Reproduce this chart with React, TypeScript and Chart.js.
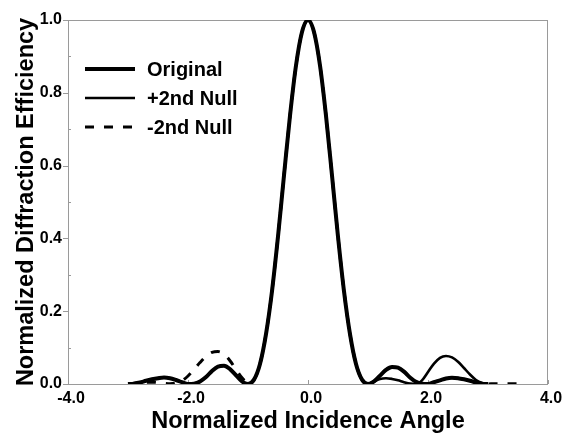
import React, { useEffect, useRef } from 'react';
import { Chart, registerables } from 'chart.js';

Chart.register(...registerables);

// ---------- data ----------
const xValues = [
  -3.0, -2.9, -2.8, -2.7, -2.6, -2.5, -2.4, -2.3, -2.2, -2.1,
  -2.0, -1.9, -1.8, -1.7, -1.6, -1.5, -1.4, -1.3, -1.2, -1.1,
  -1.0, -0.9, -0.8, -0.7, -0.6, -0.5, -0.4, -0.3, -0.2, -0.1,
  0.0,
  0.1, 0.2, 0.3, 0.4, 0.5, 0.6, 0.7, 0.8, 0.9, 1.0,
  1.1, 1.2, 1.3, 1.4, 1.5, 1.6, 1.7, 1.8, 1.9, 2.0,
  2.1, 2.2, 2.3, 2.4, 2.5, 2.6, 2.7, 2.8, 2.9, 3.0,
];

const originalValues = [
  0.000, 0.001, 0.004, 0.009, 0.013, 0.016, 0.018, 0.016, 0.011, 0.005,
  0.000, 0.001, 0.007, 0.019, 0.036, 0.048, 0.050, 0.041, 0.024, 0.007,
  0.000, 0.012, 0.055, 0.137, 0.255, 0.405, 0.573, 0.737, 0.875, 0.967,
  1.000,
  0.967, 0.875, 0.737, 0.573, 0.405, 0.255, 0.137, 0.055, 0.012, 0.000,
  0.007, 0.023, 0.039, 0.047, 0.045, 0.034, 0.018, 0.006, 0.001, 0.000,
  0.005, 0.010, 0.015, 0.017, 0.016, 0.013, 0.009, 0.004, 0.001, 0.000,
];

const plus2ndNullValues = [
  0.000, 0.001, 0.004, 0.009, 0.013, 0.016, 0.018, 0.016, 0.011, 0.005,
  0.000, 0.001, 0.007, 0.019, 0.036, 0.048, 0.050, 0.041, 0.024, 0.007,
  0.000, 0.012, 0.055, 0.137, 0.255, 0.405, 0.573, 0.737, 0.875, 0.967,
  1.000,
  0.967, 0.875, 0.737, 0.573, 0.405, 0.255, 0.137, 0.055, 0.012, 0.000,
  0.007, 0.014, 0.016, 0.014, 0.010, 0.005, 0.001, 0.000, 0.010, 0.033,
  0.056, 0.072, 0.077, 0.073, 0.061, 0.044, 0.026, 0.011, 0.003, 0.000,
];

const minus2ndNullValues = [
  0.000, 0.002, 0.004, 0.005, 0.005, 0.004, 0.002, 0.001, 0.003, 0.009,
  0.022, 0.040, 0.059, 0.076, 0.087, 0.089, 0.082, 0.064, 0.040, 0.017,
  0.003, 0.012, 0.055, 0.137, 0.255, 0.405, 0.573, 0.737, 0.875, 0.967,
  1.000,
  0.967, 0.875, 0.737, 0.573, 0.405, 0.255, 0.137, 0.055, 0.012, 0.000,
  0.007, 0.023, 0.039, 0.047, 0.045, 0.034, 0.018, 0.006, 0.001, 0.000,
  0.005, 0.010, 0.015, 0.017, 0.016, 0.013, 0.009, 0.004, 0.001, 0.000,
];

const minus2ndNullTailX = [3.1, 3.2, 3.3, 3.4, 3.5, 3.6];
const minus2ndNullTailValues = [0.001, 0.001, 0.001, 0.001, 0.001, 0.001];

const seriesLabels = ['Original', '+2nd Null', '-2nd Null'];
const xTickValues = [-4, -2, 0, 2, 4];
const yTickValues = [0, 0.2, 0.4, 0.6, 0.8, 1.0];
const yMinorTickValues = [0.1, 0.3, 0.5, 0.7, 0.9];
const xAxisTitle = 'Normalized Incidence Angle';
const yAxisTitle = 'Normalized Diffraction Efficiency';

// ---------- chart ----------
const FONT = '"Liberation Sans", Arial, Helvetica, sans-serif';
const FRAME_COLOR = '#9a9a9a';

const frameLegendPlugin = {
  id: 'frameLegend',
  beforeDatasetsDraw(chart: any) {
    const { ctx, chartArea: a, scales } = chart;
    const xs = scales.x;
    const ys = scales.y;
    ctx.save();
    ctx.strokeStyle = FRAME_COLOR;
    ctx.lineWidth = 1;
    ctx.strokeRect(a.left + 0.5, a.top + 0.5, a.right - a.left - 1, a.bottom - a.top);
    ctx.beginPath();
    for (const v of yTickValues) {
      const y = Math.round(ys.getPixelForValue(v)) + 0.5;
      ctx.moveTo(a.left - 5, y);
      ctx.lineTo(a.left + 1, y);
    }
    for (const v of yMinorTickValues) {
      const y = Math.round(ys.getPixelForValue(v)) + 0.5;
      ctx.moveTo(a.left, y);
      ctx.lineTo(a.left + 3, y);
    }
    for (const v of xTickValues) {
      const x = Math.round(xs.getPixelForValue(v)) + 0.5;
      ctx.moveTo(x, a.bottom);
      ctx.lineTo(x, a.bottom - 4);
    }
    ctx.stroke();
    ctx.restore();
  },
  afterDraw(chart: any) {
    const { ctx } = chart;
    const rows = [69, 98, 127];
    ctx.save();
    chart.data.datasets.forEach((ds: any, i: number) => {
      const y = rows[i];
      ctx.beginPath();
      ctx.strokeStyle = ds.borderColor;
      ctx.lineWidth = ds.borderWidth;
      ctx.setLineDash(ds.borderDash || []);
      ctx.moveTo(85, y);
      ctx.lineTo(135, y);
      ctx.stroke();
      ctx.setLineDash([]);
      ctx.fillStyle = '#000';
      ctx.font = `bold 20px ${FONT}`;
      ctx.textBaseline = 'middle';
      ctx.textAlign = 'left';
      ctx.fillText(ds.label, 147, y + 1);
    });
    ctx.restore();
  },
};

export default function App() {
  const canvasRef = useRef<HTMLCanvasElement | null>(null);

  useEffect(() => {
    document.body.style.margin = '0';
    const canvas = canvasRef.current;
    if (!canvas) return;

    const toPoints = (xs: number[], ys: number[]) => xs.map((x, i) => ({ x, y: ys[i] }));

    const chart = new Chart(canvas, {
      type: 'line',
      data: {
        datasets: [
          {
            label: seriesLabels[0],
            data: toPoints(xValues, originalValues),
            borderColor: '#000',
            borderWidth: 4,
            pointRadius: 0,
            cubicInterpolationMode: 'monotone',
            fill: false,
          },
          {
            label: seriesLabels[1],
            data: toPoints(xValues, plus2ndNullValues),
            borderColor: '#000',
            borderWidth: 2.6,
            pointRadius: 0,
            cubicInterpolationMode: 'monotone',
            fill: false,
          },
          {
            label: seriesLabels[2],
            data: toPoints(xValues, minus2ndNullValues).concat(
              toPoints(minus2ndNullTailX, minus2ndNullTailValues)
            ),
            borderColor: '#000',
            borderWidth: 3,
            borderDash: [9, 10],
            pointRadius: 0,
            cubicInterpolationMode: 'monotone',
            fill: false,
          },
        ],
      },
      options: {
        responsive: false,
        animation: false,
        devicePixelRatio: 1,
        layout: { padding: { left: 0, top: 20, right: 19, bottom: 0 } },
        plugins: {
          legend: { display: false },
          tooltip: { enabled: false },
        },
        scales: {
          x: {
            type: 'linear',
            min: -4,
            max: 4,
            afterBuildTicks: (scale: any) => {
              scale.ticks = xTickValues.map((v) => ({ value: v }));
            },
            afterFit: (scale: any) => {
              scale.height = 54;
            },
            grid: { display: false, drawTicks: false },
            border: { display: false },
            ticks: {
              color: '#000',
              font: { family: FONT, size: 16, weight: 'bold' },
              padding: 5,
              labelOffset: 3,
              maxRotation: 0,
              autoSkip: false,
              callback: (v: any) => Number(v).toFixed(1),
            },
            title: {
              display: true,
              text: xAxisTitle,
              color: '#000',
              font: { family: FONT, size: 23.5, weight: 'bold', lineHeight: 1.2 },
              padding: { top: 0, bottom: 2 },
            },
          },
          y: {
            type: 'linear',
            min: 0,
            max: 1,
            afterBuildTicks: (scale: any) => {
              scale.ticks = yTickValues.map((v) => ({ value: v }));
            },
            afterFit: (scale: any) => {
              scale.width = 68;
            },
            grid: { display: false, drawTicks: false },
            border: { display: false },
            ticks: {
              color: '#000',
              font: { family: FONT, size: 16, weight: 'bold' },
              padding: 6,
              autoSkip: false,
              callback: (v: any) => Number(v).toFixed(1),
            },
            title: {
              display: true,
              text: yAxisTitle,
              color: '#000',
              font: { family: FONT, size: 23.5, weight: 'bold', lineHeight: 1.2 },
              padding: { top: 12, bottom: 0 },
            },
          },
        },
      },
      plugins: [frameLegendPlugin],
    } as any);

    return () => chart.destroy();
  }, []);

  return (
    <div style={{ width: 567, height: 438, background: '#fff' }}>
      <canvas ref={canvasRef} width={567} height={438} />
    </div>
  );
}
